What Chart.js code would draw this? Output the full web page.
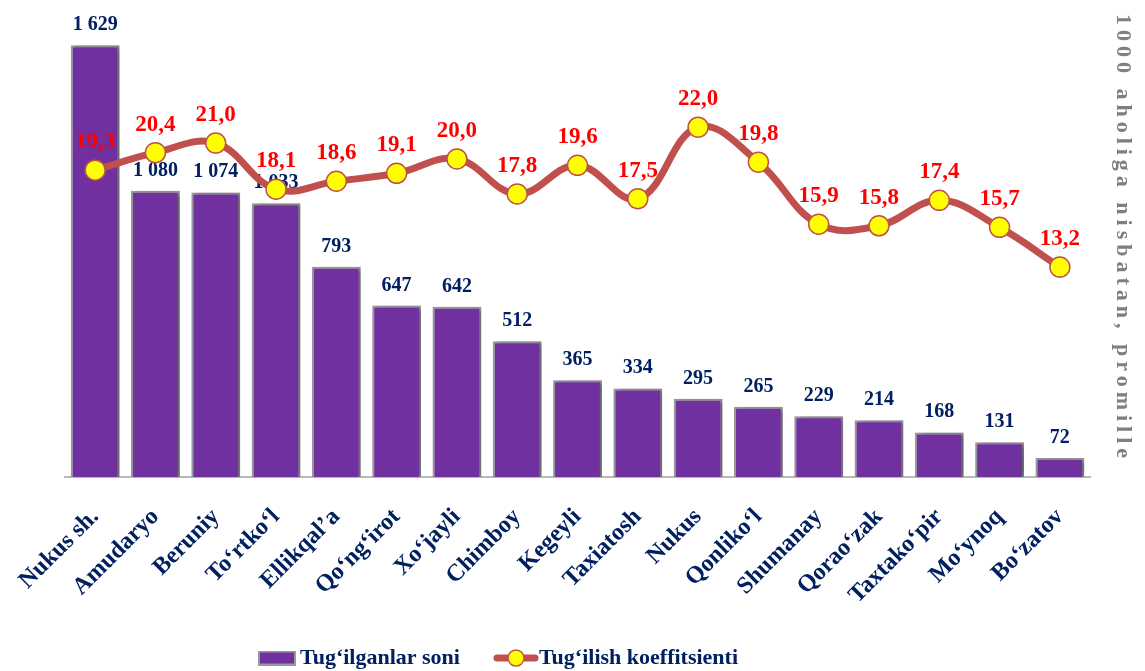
<!DOCTYPE html>
<html>
<head>
<meta charset="utf-8">
<script src="https://cdn.jsdelivr.net/npm/chart.js@4.4.1/dist/chart.umd.min.js"></script>
<style>
  body { margin: 0; background: #fff; }
</style>
</head>
<body>
<canvas id="births" width="1145" height="671"></canvas>
<script>
// districts on the x axis
const districts = ['Nukus sh.', 'Amudaryo', 'Beruniy', 'To‘rtko‘l', 'Ellikqal’a', 'Qo‘ng‘irot', 'Xo‘jayli',
  'Chimboy', 'Kegeyli', 'Taxiatosh', 'Nukus', 'Qonliko‘l', 'Shumanay', 'Qorao‘zak', 'Taxtako‘pir', 'Mo‘ynoq', 'Bo‘zatov']

// number of births (bars, left scale)
const birthsCount = [1629, 1080, 1074, 1033, 793, 647, 642, 512, 365, 334, 295, 265, 229, 214, 168, 131, 72]

// birth rate per 1000 people (line, right scale)
const birthRate = [19.3, 20.4, 21.0, 18.1, 18.6, 19.1, 20.0, 17.8, 19.6, 17.5, 22.0, 19.8, 15.9, 15.8, 17.4, 15.7, 13.2]

const barName = 'Tug‘ilganlar soni'
const lineName = 'Tug‘ilish koeffitsienti'
const rightTitle = '1000 aholiga nisbatan, promille'

const PURPLE = '#7030A0'
const NAVY = '#002060'
const LINE = '#C0504D'
const SERIF = "'Liberation Serif', 'Times New Roman', serif"

// little pictures for the legend
function barIcon() {
  const c = document.createElement('canvas')
  c.width = 38; c.height = 15
  const g = c.getContext('2d')
  g.fillStyle = '#999999'
  g.fillRect(0, 0, 38, 15)
  g.fillStyle = PURPLE
  g.fillRect(2, 2, 34, 11)
  return c
}

function lineIcon() {
  const c = document.createElement('canvas')
  c.width = 46; c.height = 20
  const g = c.getContext('2d')
  g.strokeStyle = LINE
  g.lineWidth = 7
  g.lineCap = 'round'
  g.beginPath(); g.moveTo(4, 10); g.lineTo(42, 10); g.stroke()
  g.fillStyle = '#FFFF00'
  g.lineWidth = 1.5
  g.beginPath(); g.arc(23, 10, 8, 0, Math.PI * 2); g.fill(); g.stroke()
  return c
}

const icons = [barIcon(), lineIcon()]

function fmtCount(v) {
  return String(v).replace(/\B(?=(\d{3})+(?!\d))/g, ' ')
}
function fmtRate(v) {
  return v.toFixed(1).replace('.', ',')
}

// shadow under the bars + value labels
const valueLabels = {
  id: 'valueLabels',
  beforeDatasetDraw(chart, args) {
    if (args.meta.type === 'bar') {
      const ctx = chart.ctx
      ctx.save()
      ctx.shadowColor = 'rgba(0,0,0,0.4)'
      ctx.shadowBlur = 5
      ctx.shadowOffsetX = 3
      ctx.shadowOffsetY = 1
    }
  },
  afterDatasetDraw(chart, args) {
    const ctx = chart.ctx
    const ds = chart.data.datasets[args.index]
    if (args.meta.type === 'bar') ctx.restore()
    ctx.save()
    ctx.textAlign = 'center'
    ctx.textBaseline = 'alphabetic'
    args.meta.data.forEach((el, i) => {
      if (args.meta.type === 'bar') {
        ctx.font = 'bold 20px ' + SERIF
        ctx.fillStyle = NAVY
        ctx.fillText(fmtCount(ds.data[i]), el.x, el.y - 15)
      } else {
        ctx.font = 'bold 23px ' + SERIF
        ctx.fillStyle = '#FF0000'
        ctx.fillText(fmtRate(ds.data[i]), el.x, el.y - 22)
      }
    })
    ctx.restore()
  },
  // the right title is drawn last, spaced out like the original
  afterDatasetsDraw(chart) {
    chart.ctx.save()
    chart.ctx.letterSpacing = '5px'
  },
  afterDraw(chart) {
    chart.ctx.restore()
  },
  // legend sits a bit left and low in the original
  afterLayout(chart) {
    const lg = chart.legend
    lg.left -= 101
    lg.right -= 101
    lg.top -= 12
    lg.bottom -= 12
  }
}

const data = {
  labels: districts,
  datasets: [
    {
      type: 'bar',
      label: barName,
      data: birthsCount,
      backgroundColor: PURPLE,
      borderColor: '#999999',
      borderWidth: 2,
      barPercentage: 0.81,
      categoryPercentage: 1,
      yAxisID: 'y',
      order: 2
    },
    {
      type: 'line',
      label: lineName,
      data: birthRate,
      borderColor: LINE,
      borderWidth: 7,
      tension: 0.4,
      pointRadius: 10,
      pointBackgroundColor: '#FFFF00',
      pointBorderColor: LINE,
      pointBorderWidth: 1.5,
      yAxisID: 'y1',
      order: 1
    }
  ]
}

const config = {
  data: data,
  plugins: [valueLabels],
  options: {
    responsive: false,
    animation: false,
    layout: { autoPadding: false, padding: { left: 65, right: 5, top: 0, bottom: -20 } },
    plugins: {
      tooltip: { enabled: false },
      legend: {
        position: 'bottom',
        labels: {
          usePointStyle: true,
          pointStyleWidth: 24,
          padding: 44,
          color: NAVY,
          font: { family: SERIF, size: 22, weight: 'bold' },
          generateLabels(chart) {
            return chart.data.datasets.map((ds, i) => ({
              text: ds.label,
              fontColor: NAVY,
              pointStyle: icons[i],
              datasetIndex: i,
              hidden: false,
              lineWidth: 0
            }))
          }
        }
      }
    },
    scales: {
      x: {
        grid: { display: false },
        border: { display: true, color: '#b8b8b8', width: 2 },
        ticks: {
          autoSkip: false,
          maxRotation: 45,
          minRotation: 45,
          padding: 18,
          color: NAVY,
          font: { family: SERIF, size: 24, weight: 'bold' }
        },
        afterFit(scale) { scale.height = 138 }
      },
      y: {
        display: false,
        min: 0,
        max: 1800
      },
      y1: {
        position: 'right',
        min: 0,
        max: 30,
        grid: { display: false, z: 1 },
        border: { display: false },
        ticks: { display: false },
        title: {
          display: true,
          text: rightTitle,
          color: '#7f7f7f',
          font: { family: SERIF, size: 22, weight: 'bold' }
        },
        afterFit(scale) { scale.width = 50 }
      }
    }
  }
}

const birthsChart = new Chart(document.getElementById('births'), config)
</script>
</body>
</html>
